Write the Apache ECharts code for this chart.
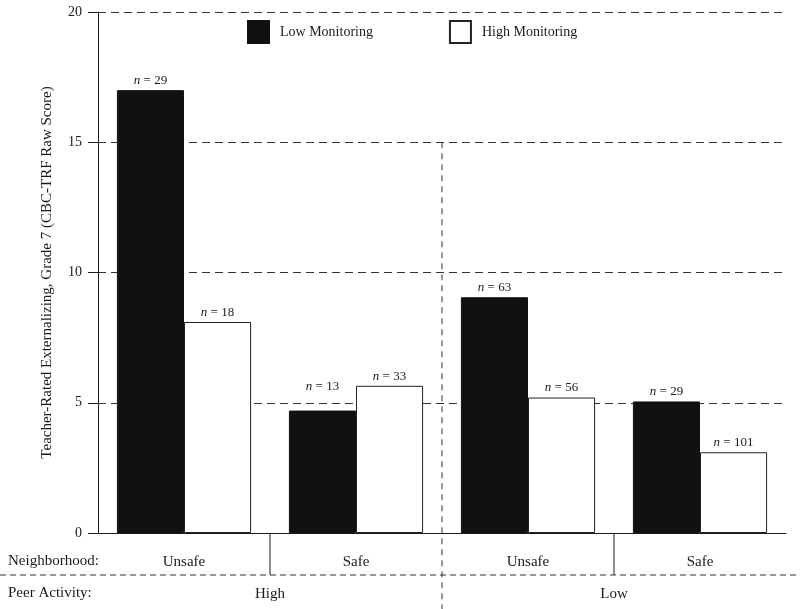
<!DOCTYPE html>
<html><head><meta charset="utf-8">
<script src="https://cdn.jsdelivr.net/npm/echarts@6/dist/echarts.min.js"></script>
<style>html,body{margin:0;padding:0;background:#fff}#c{width:800px;height:609px}</style>
</head><body><div id="c"></div>
<script>
const neighborhoods = ['Unsafe', 'Safe', 'Unsafe', 'Safe'];
const peerActivity = ['High', 'Low'];
const seriesNames = ['Low Monitoring', 'High Monitoring'];
const lowMonitoring = [17.0, 4.7, 9.05, 5.05];
const highMonitoring = [8.1, 5.65, 5.2, 3.1];
const nLow = [29, 13, 63, 29];
const nHigh = [18, 33, 56, 101];
const yAxisTitle = 'Teacher-Rated Externalizing, Grade 7 (CBC-TRF Raw Score)';

const FONT = "'Liberation Serif', 'Times New Roman', serif";
const INK = '#1a1a1a';
const chart = echarts.init(document.getElementById('c'));

function nLabel(counts) {
  return {
    show: true, position: 'top', distance: 3,
    formatter: p => '{i|n} = ' + counts[p.dataIndex],
    fontFamily: FONT, fontSize: 13, color: INK,
    rich: { i: { fontFamily: FONT, fontSize: 13, fontStyle: 'italic', color: INK } }
  };
}
// the n = 13 label sits above the dashed 5-line in the original
const lowData = lowMonitoring.map((v, i) => i === 1 ? { value: v, label: { distance: 17 } } : v);

chart.setOption({
  animation: false,
  backgroundColor: '#fff',
  textStyle: { fontFamily: FONT, color: INK },
  grid: { left: 98, right: 14, top: 12, bottom: 76 },
  legend: {
    data: seriesNames, left: 247, top: 20, padding: 0, itemWidth: 21, itemHeight: 22, itemGap: 76,
    icon: 'rect',
    textStyle: { fontFamily: FONT, fontSize: 14, color: INK, padding: [0, 0, 0, 6] }
  },
  xAxis: [
    {
      type: 'category', data: neighborhoods, position: 'bottom',
      axisLine: { lineStyle: { color: INK, width: 1 } },
      axisTick: { alignWithLabel: true, length: 11, lineStyle: { color: INK } },
      axisLabel: { margin: 22, fontFamily: FONT, fontSize: 15, color: INK }
    },
    {
      type: 'category', data: peerActivity, position: 'bottom',
      axisLine: { show: false }, axisTick: { show: false },
      axisLabel: { margin: 54, fontFamily: FONT, fontSize: 15, color: INK }
    }
  ],
  yAxis: {
    type: 'value', min: 0, max: 20, interval: 5,
    name: yAxisTitle, nameLocation: 'middle', nameGap: 43,
    nameTextStyle: { fontFamily: FONT, fontSize: 15, color: INK },
    axisLine: { show: true, lineStyle: { color: INK, width: 1 } },
    axisTick: { show: true, length: 10, lineStyle: { color: INK } },
    axisLabel: { margin: 16, fontFamily: FONT, fontSize: 14, color: INK },
    splitLine: { show: true, lineStyle: { color: '#333', type: [8, 5], width: 1 } }
  },
  series: [
    {
      name: seriesNames[0], type: 'bar', data: lowData, xAxisIndex: 0,
      barGap: '0%', barCategoryGap: '22%',
      itemStyle: { color: '#111', borderColor: '#111', borderWidth: 1 },
      label: nLabel(nLow)
    },
    {
      name: seriesNames[1], type: 'bar', data: highMonitoring, xAxisIndex: 0,
      barGap: '0%', barCategoryGap: '22%',
      itemStyle: { color: '#fff', borderColor: '#222', borderWidth: 1 },
      label: nLabel(nHigh)
    }
  ]
});

const cx = i => chart.convertToPixel({ xAxisIndex: 0 }, i);
const cy = v => chart.convertToPixel({ yAxisIndex: 0 }, v);
const b01 = (cx(0) + cx(1)) / 2, b12 = (cx(1) + cx(2)) / 2, b23 = (cx(2) + cx(3)) / 2;
const y0 = cy(0), y15 = cy(15);
const rowLine = y0 + 42;
chart.setOption({
  graphic: [
    { type: 'line', shape: { x1: b01, y1: y0, x2: b01, y2: rowLine }, style: { stroke: INK, lineWidth: 1 } },
    { type: 'line', shape: { x1: b23, y1: y0, x2: b23, y2: rowLine }, style: { stroke: INK, lineWidth: 1 } },
    { type: 'line', shape: { x1: b12, y1: y15, x2: b12, y2: 609 }, style: { stroke: '#333', lineWidth: 1, lineDash: [6, 5] } },
    { type: 'line', shape: { x1: 0, y1: rowLine, x2: 800, y2: rowLine }, style: { stroke: '#333', lineWidth: 1, lineDash: [6, 4] } },
    { type: 'text', left: 8, top: y0 + 21, style: { text: 'Neighborhood:', font: "15px 'Liberation Serif', serif", fill: INK } },
    { type: 'text', left: 8, top: y0 + 53, style: { text: 'Peer Activity:', font: "15px 'Liberation Serif', serif", fill: INK } }
  ]
});
</script></body></html>
